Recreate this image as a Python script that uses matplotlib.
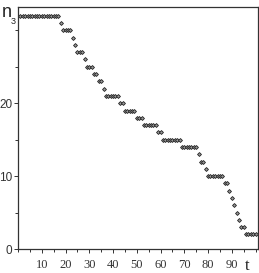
import matplotlib
matplotlib.use("Agg")
import matplotlib.pyplot as plt
from matplotlib.ticker import MultipleLocator, FixedLocator

# step levels of n3 and the last t of each step
levels = [32, 31, 30, 29, 28, 27, 26, 25, 24, 23, 22, 21, 20, 19, 18, 17,
          16, 15, 14, 13, 12, 11, 10, 9, 8, 7, 6, 5, 4, 3, 2]
step_ends = [17, 18, 22, 23, 24, 27, 28, 31, 33, 35, 36, 42, 44, 49, 52, 58,
             60, 68, 75, 76, 78, 79, 86, 88, 89, 90, 91, 92, 93, 95, 100]

x_ticks = [10, 20, 30, 40, 50, 60, 70, 80, 90]
y_ticks = [0, 10, 20]

t = []
n3 = []
start = 1
for lev, end in zip(levels, step_ends):
    for i in range(start, end + 1):
        t.append(i)
        n3.append(lev)
    start = end + 1

fig = plt.figure(figsize=(2.59, 2.73), dpi=100)
ax = fig.add_axes([18 / 259, 24 / 273, 240 / 259, 242 / 273])

ax.plot(t, n3, linestyle="none", marker="D", markersize=2.0,
        markerfacecolor="#9a9a9a", markeredgecolor="#222222",
        markeredgewidth=0.6, clip_on=False)

ax.set_xlim(0, 101)
ax.set_ylim(0, 33.2)

ax.xaxis.set_major_locator(FixedLocator(x_ticks))
ax.xaxis.set_minor_locator(MultipleLocator(5))
ax.yaxis.set_major_locator(FixedLocator(y_ticks))
ax.yaxis.set_minor_locator(FixedLocator([5, 15, 25, 30]))

ax.tick_params(axis="x", which="major", length=3, width=0.7, pad=4,
               labelsize=9, colors="#333333")
ax.tick_params(axis="x", which="minor", length=2, width=0.7, colors="#333333")
ax.tick_params(axis="y", which="major", length=3, width=0.7, pad=1,
               labelsize=8.5, colors="#333333")
ax.tick_params(axis="y", which="minor", length=2, width=0.7, colors="#333333")
for lab in ax.get_xticklabels():
    lab.set_family("Liberation Serif")
for lab in ax.get_yticklabels():
    lab.set_family("Liberation Sans")

for sp in ax.spines.values():
    sp.set_linewidth(0.9)
    sp.set_color("#333333")

fig.text(2 / 259, 1 - 17 / 273, "n", fontsize=13, family="Liberation Sans",
         color="#222222", va="baseline")
fig.text(11 / 259, 1 - 23.5 / 273, "3", fontsize=6.5, family="Liberation Sans",
         color="#222222", va="baseline")
fig.text(245 / 259, 1 - 270 / 273, "t", fontsize=12, family="Liberation Serif",
         color="#222222")

fig.savefig("out.png", dpi=100)
